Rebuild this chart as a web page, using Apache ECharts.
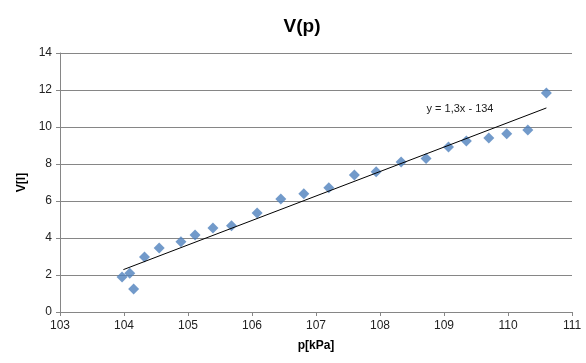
<!DOCTYPE html>
<html>
<head>
<meta charset="utf-8">
<script src="https://cdn.jsdelivr.net/npm/echarts@6/dist/echarts.min.js"></script>
<style>html,body{margin:0;padding:0;background:#fff;}#c{width:586px;height:363px;}</style>
</head>
<body>
<div id="c"></div>
<script>
var pValues = [103.97, 104.09, 104.15, 104.32, 104.55, 104.89, 105.11, 105.39, 105.68, 106.08, 106.45, 106.81, 107.2, 107.6, 107.94, 108.33, 108.72, 109.07, 109.35, 109.70, 109.98, 110.31, 110.6];
var vValues = [1.89, 2.09, 1.24, 2.97, 3.46, 3.80, 4.16, 4.54, 4.66, 5.35, 6.11, 6.39, 6.72, 7.41, 7.58, 8.11, 8.30, 8.92, 9.24, 9.40, 9.64, 9.84, 11.84];
var trendP = [103.99, 110.6];
var trendV = [2.29, 11.03];
var trendLabel = 'y = 1,3x - 134';
var xTicks = [103, 111, 1];
var yTicks = [0, 14, 2];

var pts = pValues.map(function (p, i) { return [p, vValues[i]]; });
var trend = trendP.map(function (p, i) { return [p, trendV[i]]; });
var font = 'Liberation Sans, Arial, sans-serif';
var chart = echarts.init(document.getElementById('c'));
chart.setOption({
  animation: false,
  backgroundColor: '#fff',
  title: {
    text: 'V(p)', left: 297, top: 12, textAlign: 'center',
    textStyle: { fontFamily: font, fontSize: 19, fontWeight: 'bold', color: '#000' }
  },
  grid: { left: 60, right: 14, top: 53, bottom: 51 },
  xAxis: {
    type: 'value', min: xTicks[0], max: xTicks[1], interval: xTicks[2],
    name: 'p[kPa]', nameLocation: 'middle', nameGap: 28,
    nameTextStyle: { fontFamily: font, fontSize: 12, fontWeight: 'bold', color: '#000' },
    axisLine: { show: true, lineStyle: { color: '#868686' } },
    axisTick: { show: true, length: 4, lineStyle: { color: '#868686' } },
    axisLabel: { fontFamily: font, fontSize: 12, color: '#222', margin: 8 },
    splitLine: { show: false }
  },
  yAxis: {
    type: 'value', min: yTicks[0], max: yTicks[1], interval: yTicks[2],
    name: 'V[l]', nameLocation: 'middle', nameGap: 27, nameRotate: 90,
    nameTextStyle: { fontFamily: font, fontSize: 12, fontWeight: 'bold', color: '#000' },
    axisLine: { show: true, lineStyle: { color: '#868686' } },
    axisTick: { show: true, length: 4, lineStyle: { color: '#868686' } },
    axisLabel: { fontFamily: font, fontSize: 12, color: '#222', margin: 8 },
    splitLine: { show: true, lineStyle: { color: '#868686', width: 1 } }
  },
  series: [
    {
      type: 'line', data: trend, symbol: 'none', silent: true,
      lineStyle: { color: '#000', width: 1 },
      z: 3
    },
    {
      type: 'scatter', data: pts, symbol: 'diamond', symbolSize: 11,
      itemStyle: { color: '#4F81BD' }, z: 2
    }
  ],
  graphic: []
});
var pos = chart.convertToPixel({ gridIndex: 0 }, [109.25, 10.95]);
chart.setOption({
  graphic: [{
    type: 'text', x: pos[0], y: pos[1],
    style: { text: trendLabel, fontFamily: font, fontSize: 11, fill: '#222', textAlign: 'center', textVerticalAlign: 'middle' }
  }]
});
</script>
</body>
</html>
